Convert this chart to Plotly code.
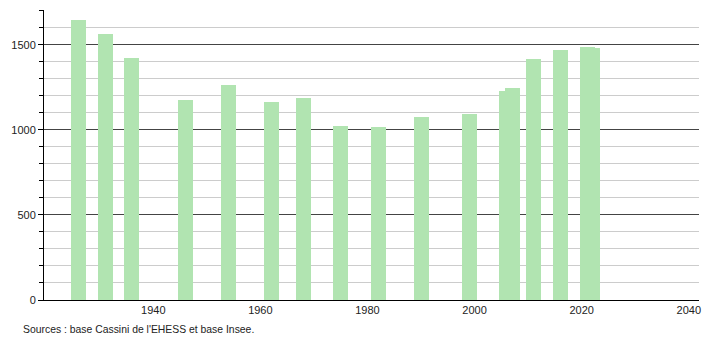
import plotly.graph_objects as go

years = [1926, 1931, 1936, 1946, 1954, 1962, 1968, 1975, 1982, 1990, 1999, 2006, 2007, 2011, 2016, 2021, 2022]
population = [1648, 1561, 1424, 1176, 1265, 1167, 1188, 1024, 1018, 1075, 1094, 1231, 1247, 1418, 1471, 1488, 1483]
x_ticks = [1940, 1960, 1980, 2000, 2020, 2040]
y_ticks = [0, 500, 1000, 1500]
source_text = "Sources : base Cassini de l'EHESS et base Insee."

fig = go.Figure()
fig.add_trace(go.Bar(
    x=years, y=population, width=2.8,
    marker=dict(color="#b1e4b1", line=dict(width=0)),
    hoverinfo="x+y",
))

fig.update_layout(
    width=710, height=340,
    margin=dict(l=44, r=9, t=10, b=40),
    paper_bgcolor="white", plot_bgcolor="white",
    font=dict(family="Liberation Sans, Arial, sans-serif", size=11, color="#222"),
    showlegend=False,
    bargap=0,
    xaxis=dict(
        range=[1919.6, 2041.9], tickvals=x_ticks, ticktext=[str(v) for v in x_ticks],
        showgrid=False, zeroline=False, showline=True, linecolor="#000", linewidth=1,
        ticks="", ticklen=0, tickfont=dict(size=11),
    ),
    yaxis=dict(
        range=[0, 1705], tickvals=y_ticks, ticktext=[str(v) for v in y_ticks],
        showgrid=True, gridcolor="#444", gridwidth=1, zeroline=False,
        showline=True, linecolor="#000", linewidth=1,
        ticks="outside", ticklen=5, tickcolor="#000", tickfont=dict(size=11),
        minor=dict(dtick=100, showgrid=True, gridcolor="#cccccc", gridwidth=1,
                   ticks="outside", ticklen=4, tickcolor="#000"),
    ),
)

fig.add_annotation(
    text=source_text, xref="paper", yref="paper",
    x=-0.035, y=-0.1, xanchor="left", yanchor="middle",
    showarrow=False, font=dict(size=10.4, color="#222"),
)

fig.write_html("out.html")
